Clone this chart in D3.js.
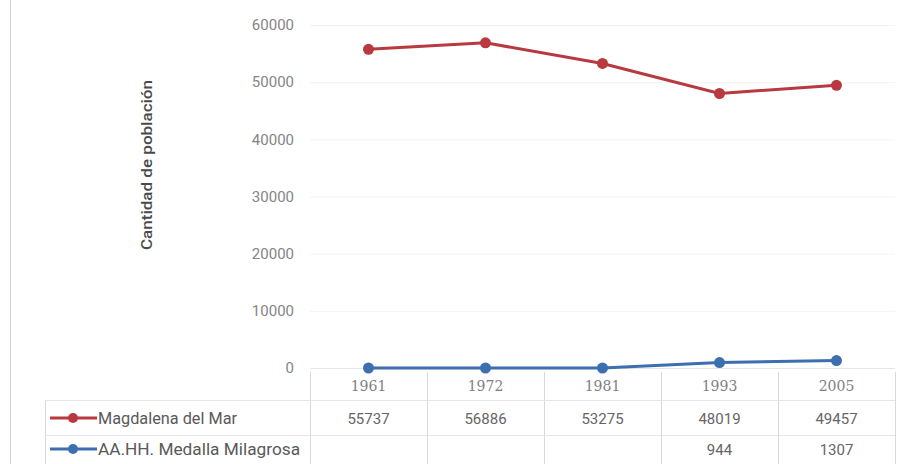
<!DOCTYPE html>
<html>
<head>
<meta charset="utf-8">
<script src="https://cdn.jsdelivr.net/npm/d3@7"></script>
<style>
  body { margin: 0; background: #fff; }
  svg { display: block; font-family: Roboto, "Open Sans", sans-serif; }
</style>
</head>
<body>
<svg width="901" height="464"></svg>
<script>
var years = ["1961", "1972", "1981", "1993", "2005"];
var magdalena = [55737, 56886, 53275, 48019, 49457];
var medalla = [0, 0, 0, 944, 1307];
// what the data table prints (blank where no census value)
var medallaTable = ["", "", "", "944", "1307"];
var seriesNames = ["Magdalena del Mar", "AA.HH. Medalla Milagrosa"];
var seriesColors = ["#b8393f", "#3d6eb0"];
var yTicks = [0, 10000, 20000, 30000, 40000, 50000, 60000];

var svg = d3.select("svg"),
    width = +svg.attr("width"),
    height = +svg.attr("height");

var plotLeft = 310, plotRight = 895, plotTop = 25, plotBottom = 368;

var x = d3.scaleBand().domain(years).range([plotLeft, plotRight]);
var y = d3.scaleLinear().domain([0, 60000]).range([plotBottom, plotTop]);

// chart border on the left
svg.append("line")
    .attr("x1", 10.5).attr("x2", 10.5)
    .attr("y1", 0).attr("y2", height)
    .attr("stroke", "#d0d0d0");

// gridlines
svg.append("g")
    .selectAll("line")
    .data(yTicks)
    .enter().append("line")
    .attr("x1", plotLeft).attr("x2", plotRight)
    .attr("y1", function(d) { return y(d) + 0.5; })
    .attr("y2", function(d) { return y(d) + 0.5; })
    .attr("stroke", function(d) { return d == 0 ? "#e6e6e6" : "#f3f3f3"; });

// y axis labels
var yAxis = d3.axisLeft(y).tickValues(yTicks).tickSize(0).tickPadding(0)
    .tickFormat(d3.format("d"));
svg.append("g")
    .attr("transform", "translate(294,0)")
    .call(yAxis)
    .call(function(g) { g.select(".domain").remove(); })
    .selectAll("text")
    .attr("fill", "#858585")
    .attr("font-size", 15)
    .attr("font-family", "Roboto, sans-serif");

// y axis title
svg.append("text")
    .attr("transform", "translate(152,165) rotate(-90)")
    .attr("text-anchor", "middle")
    .attr("font-size", 15)
    .attr("font-weight", 500)
    .attr("fill", "#4a4a4a")
    .attr("textLength", 170)
    .attr("lengthAdjust", "spacingAndGlyphs")
    .text("Cantidad de población");

// series lines and markers
var line = d3.line()
    .x(function(d, i) { return x(years[i]) + x.bandwidth() / 2; })
    .y(function(d) { return y(d); });

[magdalena, medalla].forEach(function(values, s) {
    svg.append("path")
        .datum(values)
        .attr("d", line)
        .attr("fill", "none")
        .attr("stroke", seriesColors[s])
        .attr("stroke-width", 3);
    svg.append("g")
        .selectAll("circle")
        .data(values)
        .enter().append("circle")
        .attr("cx", function(d, i) { return x(years[i]) + x.bandwidth() / 2; })
        .attr("cy", function(d) { return y(d); })
        .attr("r", 5.5)
        .attr("fill", seriesColors[s]);
});

// data table
var rowTop = 372, row1 = 400, row2 = 435, rowEnd = 464;
var legendLeft = 45;
var grid = svg.append("g").attr("stroke", "#d9d9d9").attr("fill", "none");

x.domain().concat(["end"]).forEach(function(yr) {
    var xx = (yr == "end" ? plotRight : x(yr)) + 0.5;
    grid.append("line").attr("x1", xx).attr("x2", xx).attr("y1", rowTop).attr("y2", rowEnd);
});
grid.append("line").attr("x1", legendLeft + 0.5).attr("x2", legendLeft + 0.5).attr("y1", row1).attr("y2", rowEnd);
[row1, row2].forEach(function(r) {
    grid.append("line").attr("x1", legendLeft).attr("x2", plotRight).attr("y1", r + 0.5).attr("y2", r + 0.5)
        .attr("stroke", "#e6e6e6");
});

var cellText = svg.append("g")
    .attr("text-anchor", "middle")
    .attr("font-size", 15)
    .attr("fill", "#666");

years.forEach(function(yr, i) {
    var cx = x(yr) + x.bandwidth() / 2;
    cellText.append("text").attr("x", cx).attr("y", 391)
        .attr("font-family", "'DejaVu Serif', serif").attr("font-size", 14)
        .attr("fill", "#808080").text(yr);
    cellText.append("text").attr("x", cx).attr("y", 424).text(magdalena[i]);
    cellText.append("text").attr("x", cx).attr("y", 455).text(medallaTable[i]);
});

// legend keys in the table
var legendY = [418, 449];
var legendWidths = [139, 202];
seriesNames.forEach(function(name, s) {
    var ly = legendY[s];
    svg.append("line")
        .attr("x1", 50).attr("x2", 97)
        .attr("y1", ly).attr("y2", ly)
        .attr("stroke", seriesColors[s]).attr("stroke-width", 3);
    svg.append("circle")
        .attr("cx", 73).attr("cy", ly).attr("r", 5)
        .attr("fill", seriesColors[s]);
    svg.append("text")
        .attr("x", 98).attr("y", ly + 6)
        .attr("font-size", 16)
        .attr("fill", "#595959")
        .attr("textLength", legendWidths[s])
        .attr("lengthAdjust", "spacingAndGlyphs")
        .text(name);
});
</script>
</body>
</html>
